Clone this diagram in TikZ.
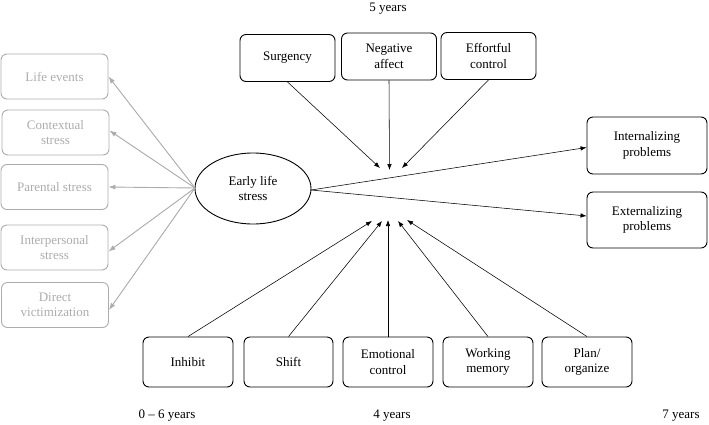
\documentclass[tikz,border=0pt]{standalone}
\usepackage{fontspec}
\setmainfont{Liberation Serif}
\usetikzlibrary{arrows.meta,shapes.geometric}
\definecolor{lightgr}{RGB}{172,172,172}
\begin{document}
\begin{tikzpicture}[x=1pt,y=-1pt,
  every node/.style={font=\fontsize{13}{15.5}\selectfont, align=center, inner sep=0pt},
  box/.style={draw, line width=0.9pt, rounded corners=6pt, minimum width=#1, minimum height=47pt},
  box/.default=95pt,
  gbox/.style={draw=lightgr, text=lightgr, line width=0.9pt, rounded corners=6pt, minimum width=107pt, minimum height=45pt},
  arr/.style={-{Latex[length=6pt,width=4.5pt]}, line width=0.55pt},
  garr/.style={-{Latex[length=7pt,width=5pt]}, line width=0.9pt, draw=lightgr, fill=lightgr}
]
\useasboundingbox (0,0) rectangle (709,424);
% left gray boxes
\node[gbox] (life) at (54.5,76.5) {Life events};
\node[gbox] (ctx) at (55.5,132.5) {Contextual\\stress};
\node[gbox] (par) at (54.5,187) {Parental stress};
\node[gbox] (inter) at (54.5,247.5) {Interpersonal\\stress};
\node[gbox] (dir) at (55,305) {Direct\\victimization};
% ellipse
\node[draw, ellipse, line width=0.9pt, minimum width=116pt, minimum height=71pt] (els) at (253,188.5) {Early life\\stress};
% top
\node at (388,9) {5 years};
\node[box] (sur) at (287.5,58) {Surgency};
\node[box] (neg) at (389,56.5) {Negative\\affect};
\node[box] (eff) at (488.5,56) {Effortful\\control};
% right
\node[box=120pt, minimum height=57pt] (int) at (647,145.5) {Internalizing\\problems};
\node[box=120pt, minimum height=56pt] (ext) at (647,220) {Externalizing\\problems};
% bottom
\node[box=90pt, minimum height=50pt] (inh) at (188,362) {Inhibit};
\node[box=89pt, minimum height=50pt] (shi) at (288.5,362) {Shift};
\node[box=90pt, minimum height=50pt] (emo) at (388,362) {Emotional\\control};
\node[box=90pt, minimum height=50pt] (wor) at (488,362) {Working\\memory};
\node[box=90pt, minimum height=50pt] (pla) at (587,362) {Plan/\\organize};
% year labels
\node at (167,416) {0 – 6 years};
\node at (392,416) {4 years};
\node at (681,416) {7 years};
% free ends
\coordinate (t1) at (380,168);
\coordinate (t2) at (389.5,170);
\coordinate (t3) at (402,168);
\coordinate (b1) at (372,221);
\coordinate (b2) at (382,221);
\coordinate (b3) at (388,220);
\coordinate (b4) at (398,221);
\coordinate (b5) at (407,220);
\coordinate (elw) at (195,188);
\coordinate (ele) at (311,190);
% gray arrows
\draw[garr] (elw) -- (life.east);
\draw[garr] (elw) -- ([yshift=2pt]ctx.east);
\draw[garr] (elw) -- (par.east);
\draw[garr] (elw) -- ([yshift=-4pt]inter.east);
\draw[garr] (elw) -- ([yshift=-5pt]dir.east);
% outcome arrows
\draw[arr] (ele) -- ([yshift=-2pt]int.west);
\draw[arr] (ele) -- ([yshift=4pt]ext.west);
% top arrows
\draw[arr] (sur.south) -- (t1);
\draw[arr] (neg.south) -- (t2);
\draw[arr] (eff.south) -- (t3);
% bottom arrows
\draw[arr] (inh.north) -- (b1);
\draw[arr] (shi.north) -- (b2);
\draw[arr] (emo.north) -- (b3);
\draw[arr] (wor.north) -- (b4);
\draw[arr] (pla.north) -- (b5);
\end{tikzpicture}
\end{document}
